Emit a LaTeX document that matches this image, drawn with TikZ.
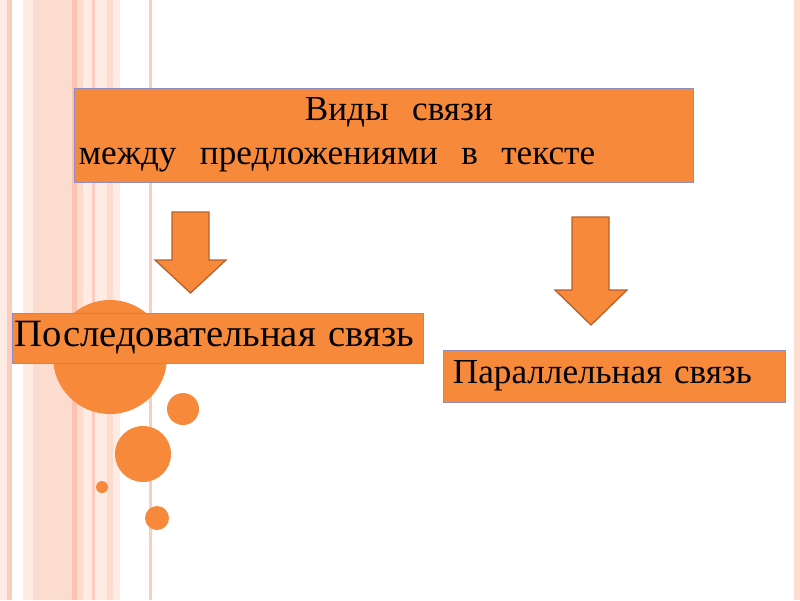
\documentclass[tikz,border=0pt]{standalone}
\usepackage{fontspec}
\setmainfont{Liberation Serif}
\usepackage{xcolor}
\usetikzlibrary{positioning}

\definecolor{slideorange}{HTML}{F7893B}
\definecolor{boxedge}{HTML}{8E8EC4}
\definecolor{arrowedge}{HTML}{B8602C}
\definecolor{pinkA}{HTML}{FDDCD0}
\definecolor{pinkB}{HTML}{FCCDBE}
\definecolor{pinkC}{HTML}{FEEBE4}
\definecolor{pinkD}{HTML}{FBC3B0}

\begin{document}
\begin{tikzpicture}[x=0.025cm,y=-0.025cm,
  box/.style={draw=boxedge,line width=0.6pt,fill=slideorange,
    font=\fontsize{25}{31}\selectfont,align=left,inner ysep=0pt},
  blockarrow/.style={draw=arrowedge,line width=0.9pt,fill=slideorange,line join=miter}]
  \useasboundingbox (0,0) rectangle (800,600);
  % background stripes
  \foreach \l/\r/\c in {0/7/pinkC,7/12/pinkB,23/33/pinkC,33/72/pinkA,72/77/pinkD,
      77/83/pinkA,83/92/pinkC,92/95/pinkB,95/107/pinkC,107/113/pinkA,113/120/pinkC,
      149/152/pinkB,794/800/pinkA}
    \fill[\c] (\l,0) rectangle (\r,600);
  % circles
  \fill[slideorange] (110,357) circle [radius=1.425cm];
  \fill[slideorange] (183,409) circle [radius=0.4cm];
  \fill[slideorange] (143,454) circle [radius=0.7cm];
  \fill[slideorange] (102,487) circle [radius=0.15cm];
  \fill[slideorange] (157,518) circle [radius=0.3cm];
  % boxes
  \node[box,minimum width=15.45cm,minimum height=2.35cm,text width=15.25cm,inner xsep=0.1cm]
    (types) at (384,135) {\hspace*{5.65cm}Виды\ \ связи\\между\ \ предложениями\ \ в\ \ тексте};
  \node[box,minimum width=10.275cm,minimum height=1.25cm,text width=10.125cm,inner xsep=0.075cm,
    font=\fontsize{27.5}{33}\selectfont]
    (serial) at (217.5,338) {Последовательная связь};
  \node[box,minimum width=8.55cm,minimum height=1.3cm,text width=8.05cm,inner xsep=0.25cm]
    (parallel) at (614,376) {Параллельная связь};
  % arrows
  \draw[blockarrow] (172,212) -- (209,212) -- (209,260) -- (226,260) -- (190.5,293)
    -- (155,260) -- (172,260) -- cycle;
  \draw[blockarrow] (572,217) -- (609,217) -- (609,290) -- (627,290) -- (591,325)
    -- (555,290) -- (572,290) -- cycle;
\end{tikzpicture}
\end{document}
